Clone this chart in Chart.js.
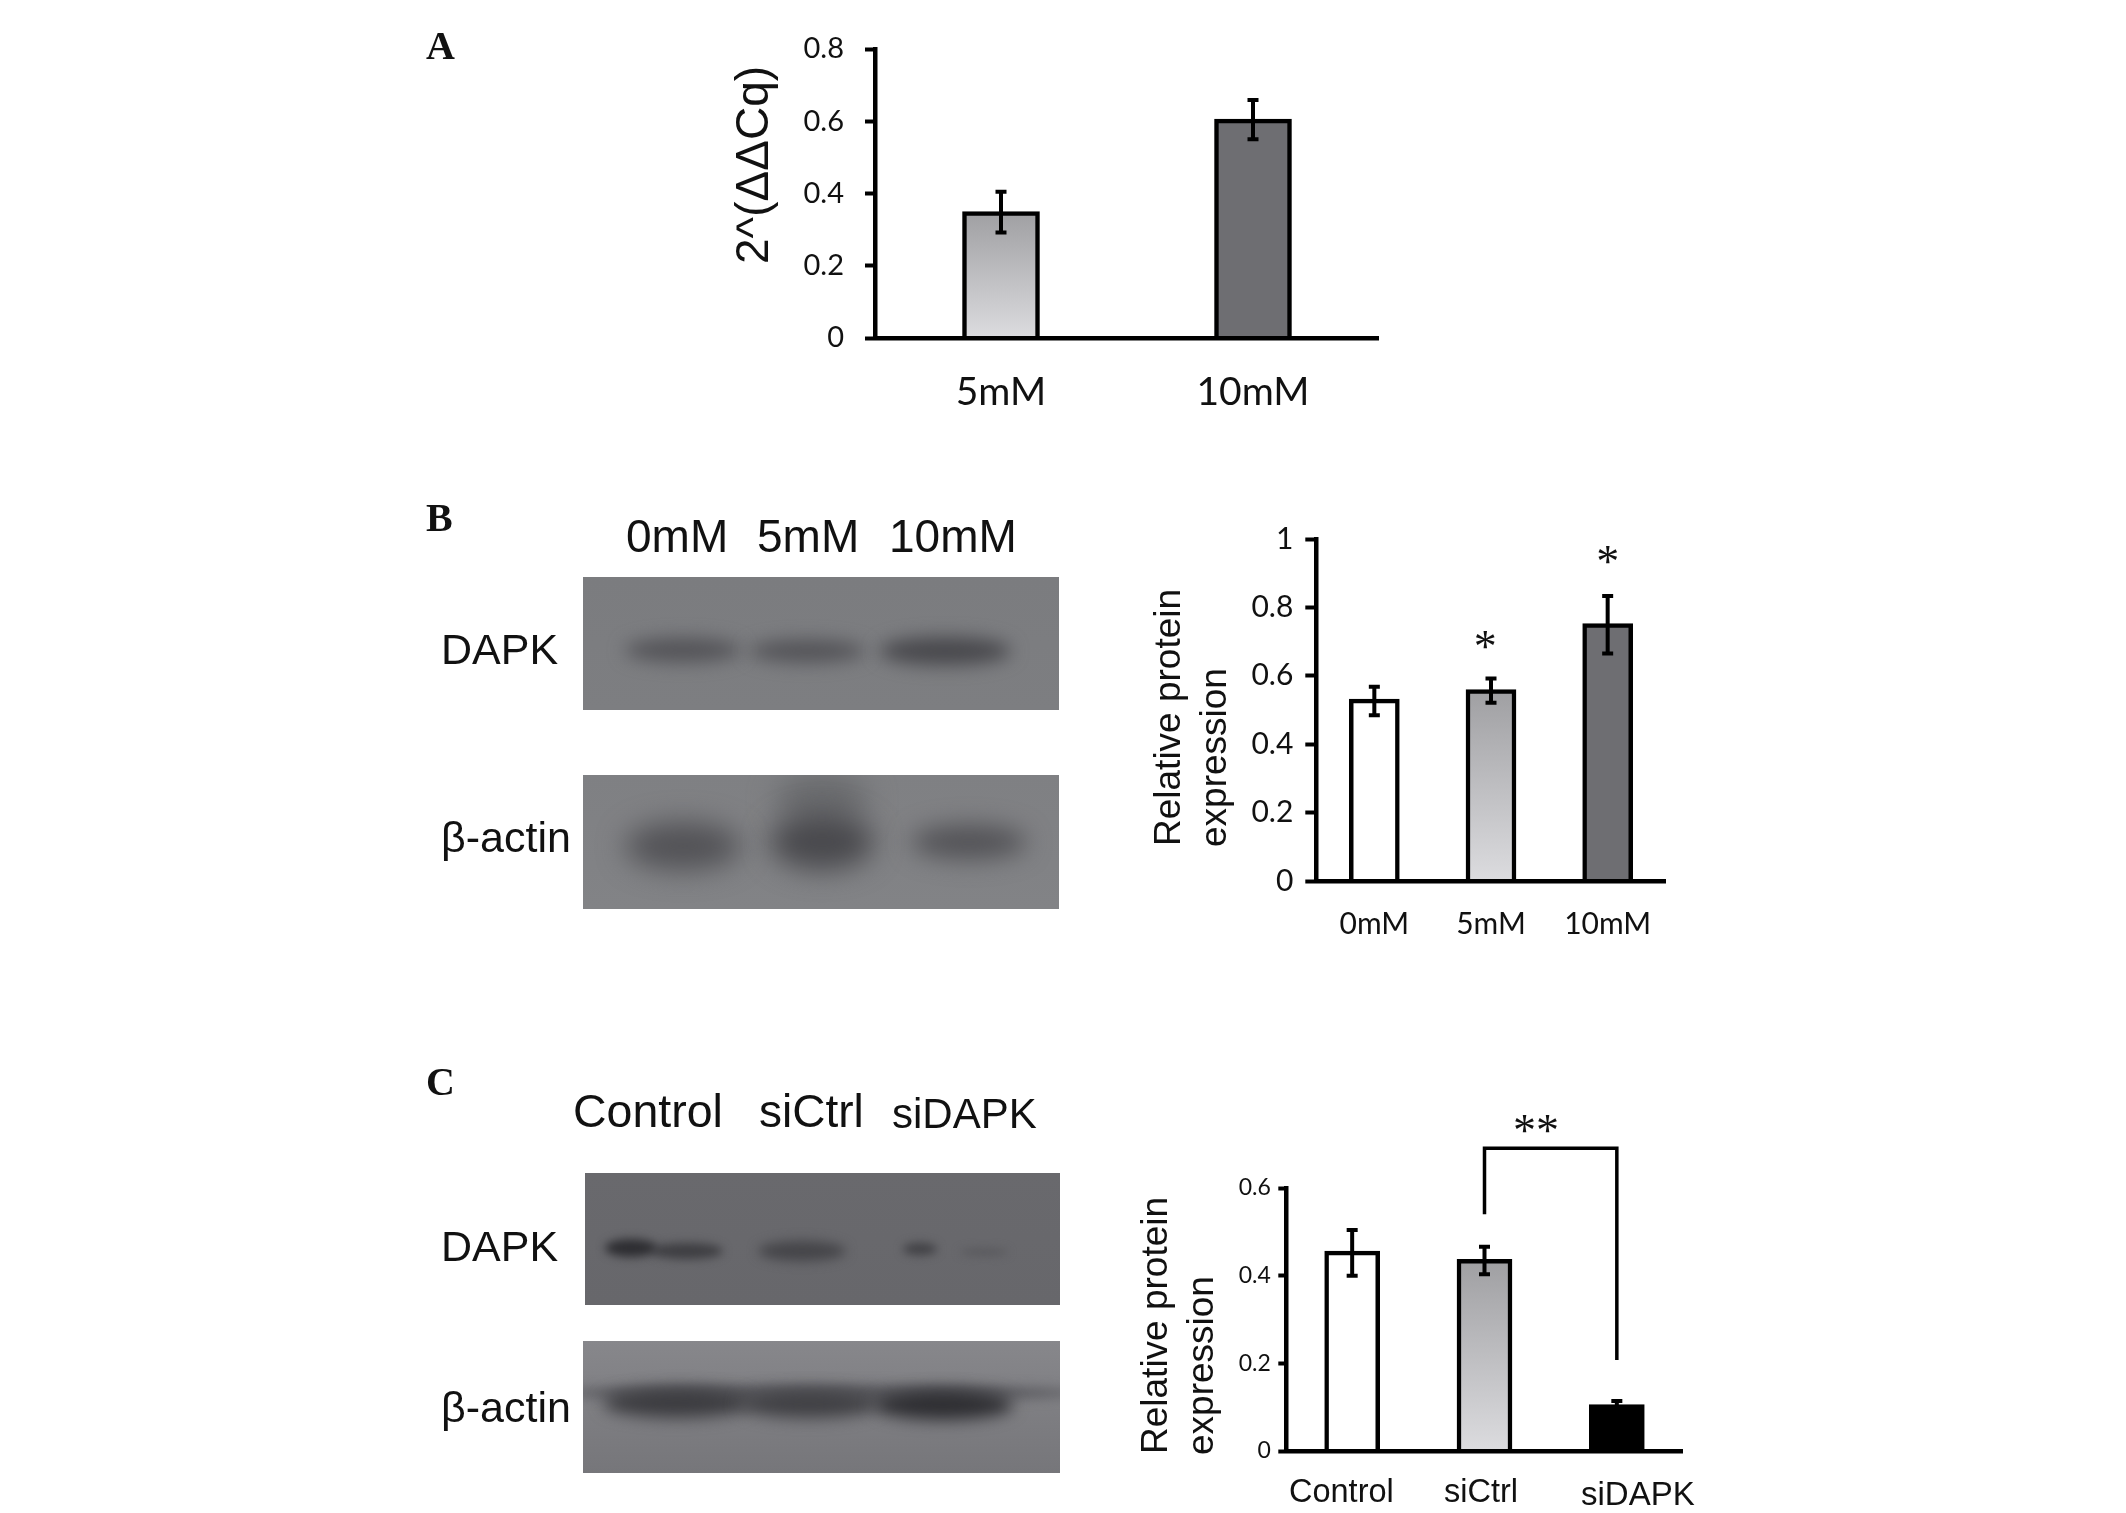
<!DOCTYPE html>
<html>
<head>
<meta charset="utf-8">
<title>DAPK</title>
<script src="https://cdn.jsdelivr.net/npm/chart.js@4"></script>
<style>
  html, body { margin: 0; background: #fff; overflow: hidden; }
  canvas { position: absolute; }
</style>
</head>
<body>
<canvas id="fundo" width="2126" height="1513" style="left:0;top:0"></canvas>
<canvas id="graficoA" width="599" height="400" style="left:780px;top:20px"></canvas>
<canvas id="graficoB" width="426" height="450" style="left:1240px;top:520px"></canvas>
<canvas id="graficoC" width="483" height="413" style="left:1200px;top:1100px"></canvas>
<script>
// Panel A
const labelsA = ['5mM', '10mM']
const valuesA = [0.35, 0.606]
const errTopA = [0.405, 0.659]
const errBottomA = [0.292, 0.55]
const ticksA = ['0', '0.2', '0.4', '0.6', '0.8']

// Panel B
const labelsB = ['0mM', '5mM', '10mM']
const valuesB = [0.532, 0.56, 0.753]
const errTopB = [0.568, 0.592, 0.833]
const errBottomB = [0.485, 0.521, 0.665]
const ticksB = ['0', '0.2', '0.4', '0.6', '0.8', '1']
const starsXB = [0.95, 2]
const starsYB = [0.7, 0.948]

// Panel C
const labelsC = ['Control', 'siCtrl', 'siDAPK']
const valuesC = [0.456, 0.437, 0.106]
const errTopC = [0.504, 0.466, 0.114]
const errBottomC = [0.4, 0.403, 0.1]
const ticksC = ['0', '0.2', '0.4', '0.6']
const starsXC = [1.39]
const starsYC = [0.741]
const bracketC = [0.54, 0.6905, 0.2076]

function barFill(fill) {
    return function (c) {
        if (fill !== 'gradient') return fill
        const chart = c.chart
        if (!chart.chartArea || c.parsed === undefined) return '#bbb'
        const y = chart.scales.y
        const grad = chart.ctx.createLinearGradient(0, y.getPixelForValue(c.parsed.y), 0, y.getPixelForValue(0))
        grad.addColorStop(0, '#9f9fa2')
        grad.addColorStop(1, '#dcdcdf')
        return grad
    }
}

// error bars, stars and bracket go through the chart scales
const extras = {
    id: 'extras',
    afterDatasetsDraw(chart, args, opts) {
        const ctx = chart.ctx
        const x = chart.scales.x
        const y = chart.scales.y
        ctx.save()
        ctx.strokeStyle = '#000'
        ctx.fillStyle = '#111'
        ctx.lineWidth = 4
        opts.errTop.forEach((top, i) => {
            const px = x.getPixelForValue(i)
            const y1 = y.getPixelForValue(top)
            const y2 = y.getPixelForValue(opts.errBottom[i])
            ctx.beginPath()
            ctx.moveTo(px, y1)
            ctx.lineTo(px, y2)
            ctx.moveTo(px - 5.5, y1)
            ctx.lineTo(px + 5.5, y1)
            ctx.moveTo(px - 5.5, y2)
            ctx.lineTo(px + 5.5, y2)
            ctx.stroke()
        })
        if (opts.bracket) {
            const b = opts.bracket
            ctx.lineWidth = 3.5
            ctx.beginPath()
            ctx.moveTo(x.getPixelForValue(1), y.getPixelForValue(b[0]))
            ctx.lineTo(x.getPixelForValue(1), y.getPixelForValue(b[1]))
            ctx.lineTo(x.getPixelForValue(2), y.getPixelForValue(b[1]))
            ctx.lineTo(x.getPixelForValue(2), y.getPixelForValue(b[2]))
            ctx.stroke()
        }
        if (opts.starsX) {
            ctx.font = opts.starFont
            ctx.textAlign = 'center'
            ctx.textBaseline = 'alphabetic'
            opts.starsX.forEach((sx, i) => {
                ctx.fillText(opts.starText, x.getPixelForValue(sx), y.getPixelForValue(opts.starsY[i]) + opts.starShift)
            })
        }
        ctx.restore()
    }
}

function makeChart(id, cfg) {
    return new Chart(document.getElementById(id), {
        type: 'bar',
        plugins: [extras],
        data: {
            labels: cfg.labels,
            datasets: [{
                data: cfg.values,
                backgroundColor: c => barFill(cfg.fills[c.dataIndex])(c),
                borderColor: '#000',
                borderWidth: 4.5,
                barThickness: cfg.barWidth
            }]
        },
        options: {
            responsive: false,
            animation: false,
            layout: { autoPadding: false, padding: { top: cfg.top, left: 0, right: 0, bottom: 0 } },
            plugins: { legend: { display: false }, tooltip: { enabled: false }, extras: cfg.extras },
            scales: {
                x: {
                    afterFit: s => { s.height = cfg.xHeight; s.paddingLeft = 0; s.paddingRight = 0 },
                    grid: { display: false, drawTicks: false },
                    border: { color: '#000', width: 4.5, z: 1 },
                    ticks: {
                        display: cfg.showX,
                        padding: cfg.xPad,
                        maxRotation: 0,
                        color: '#111',
                        font: { family: 'Lato', size: cfg.xFont }
                    }
                },
                y: {
                    min: 0,
                    max: cfg.max,
                    afterFit: s => { s.width = cfg.yWidth; s.paddingTop = 0; s.paddingBottom = 0 },
                    grid: { drawOnChartArea: false, tickLength: cfg.tickLen, tickWidth: 4, tickColor: '#000' },
                    border: { color: '#000', width: 4.5 },
                    ticks: {
                        stepSize: 0.2,
                        padding: cfg.yPad,
                        color: '#111',
                        font: { family: 'Lato', size: cfg.yFont },
                        callback: (v, i) => cfg.ticks[i]
                    }
                }
            }
        }
    })
}

makeChart('graficoA', {
    labels: labelsA, values: valuesA, ticks: ticksA, max: 0.8,
    fills: ['gradient', '#6e6e72'], barWidth: 77,
    top: 29, xHeight: 82, yWidth: 95, xPad: 31, yPad: 21, tickLen: 10, xFont: 39, yFont: 29, showX: true,
    extras: { errTop: errTopA, errBottom: errBottomA }
})

makeChart('graficoB', {
    labels: labelsB, values: valuesB, ticks: ticksB, max: 1,
    fills: ['#fff', 'gradient', '#6e6e72'], barWidth: 50,
    top: 19, xHeight: 89, yWidth: 76, xPad: 25, yPad: 12, tickLen: 10.7, xFont: 30, yFont: 30, showX: true,
    extras: { errTop: errTopB, errBottom: errBottomB, starsX: starsXB, starsY: starsYB, starText: '*', starFont: '46px "Liberation Serif"', starShift: 20 }
})

makeChart('graficoC', {
    labels: labelsC, values: valuesC, ticks: ticksC, max: 0.6,
    fills: ['#fff', 'gradient', '#000'], barWidth: 55,
    top: 88, xHeight: 62, yWidth: 86, xPad: 25, yPad: 7.5, tickLen: 7.7, xFont: 23, yFont: 23, showX: false,
    extras: { errTop: errTopC, errBottom: errBottomC, bracket: bracketC, starsX: starsXC, starsY: starsYC, starText: '**', starFont: '46px "Liberation Serif"', starShift: 20 }
})

// blots and loose text
const ctx = document.getElementById('fundo').getContext('2d')

function blot(x, y, w, h, top, bottom, bands) {
    ctx.save()
    ctx.beginPath()
    ctx.rect(x, y, w, h)
    ctx.clip()
    const g = ctx.createLinearGradient(0, y, 0, y + h)
    g.addColorStop(0, top)
    g.addColorStop(1, bottom)
    ctx.fillStyle = g
    ctx.fillRect(x, y, w, h)
    bands.forEach(b => {
        ctx.filter = 'blur(' + b[5] + 'px)'
        ctx.fillStyle = b[4]
        ctx.beginPath()
        ctx.ellipse(b[0], b[1], b[2], b[3], 0, 0, Math.PI * 2)
        ctx.fill()
    })
    ctx.restore()
}

blot(583, 577, 476, 133, '#7b7c7f', '#7d7e81', [
    [683, 650, 58, 12, '#535357', 9],
    [807, 651, 58, 11, '#525256', 9],
    [945, 651, 66, 14, '#48484c', 9]
])
blot(583, 775, 476, 134, '#7f8083', '#828386', [
    [822, 800, 46, 28, '#6a6b6e', 14],
    [683, 846, 58, 24, '#525256', 14],
    [822, 842, 52, 28, '#49494d', 14],
    [969, 842, 58, 17, '#525256', 12]
])
blot(585, 1173, 475, 132, '#69696d', '#67676b', [
    [687, 1251, 36, 8, '#3e3e42', 5],
    [631, 1248, 26, 9, '#2d2d31', 5],
    [802, 1251, 44, 10, '#454549', 6],
    [920, 1249, 17, 6, '#404044', 5],
    [984, 1252, 24, 4, '#5a5a5e', 4]
])
blot(583, 1341, 477, 132, '#87878b', '#76767a', [
    [820, 1393, 260, 8, '#5a5a5f', 6],
    [677, 1403, 74, 15, '#3c3c40', 8],
    [809, 1404, 70, 14, '#404044', 8],
    [943, 1405, 70, 15, '#2e2e32', 8]
])

function text(t, x, y, font, rotate) {
    ctx.save()
    ctx.translate(x, y)
    if (rotate) ctx.rotate(-Math.PI / 2)
    ctx.font = font
    ctx.fillStyle = '#111'
    ctx.textAlign = 'left'
    ctx.textBaseline = 'alphabetic'
    ctx.fillText(t, 0, 0)
    ctx.restore()
}

const serif = 'bold 40px "Liberation Serif"'
const arial = ' "Liberation Sans"'
text('A', 426, 59, serif)
text('B', 426, 531, serif)
text('C', 426, 1095, serif)

text('0mM', 626, 552, '46px' + arial)
text('5mM', 757, 552, '46px' + arial)
text('10mM', 889, 552, '46px' + arial)
text('DAPK', 441, 664, '43px' + arial)
text('β-actin', 441, 852, '43px' + arial)

text('Control', 573, 1127, '46.5px' + arial)
text('siCtrl', 759, 1127, '46px' + arial)
text('siDAPK', 892, 1128, '42px' + arial)
text('DAPK', 441, 1261, '43px' + arial)
text('β-actin', 441, 1422, '43px' + arial)

text('2^(ΔΔCq)', 768, 264, '46px' + arial, true)
text('Relative protein', 1180, 846, '37px' + arial, true)
text('expression', 1226, 847, '37px' + arial, true)
text('Relative protein', 1167, 1454, '37px' + arial, true)
text('expression', 1213, 1455, '37px' + arial, true)

text('Control', 1289, 1502, '32.5px' + arial)
text('siCtrl', 1444, 1502, '32.5px' + arial)
text('siDAPK', 1581, 1505, '33px' + arial)
</script>
</body>
</html>
